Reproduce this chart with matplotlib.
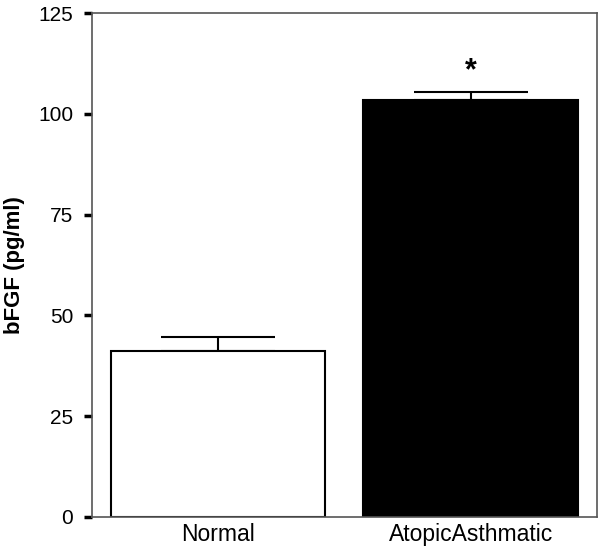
import numpy as np
import matplotlib
matplotlib.use("Agg")
import matplotlib.pyplot as plt

matplotlib.rcParams['font.family'] = ['Liberation Sans', 'DejaVu Sans']

groups = ["Normal", "AtopicAsthmatic"]
means = [41.2, 103.4]
sem = [3.5, 2.1]
colors = ["white", "black"]
yticks = [0, 25, 50, 75, 100, 125]

fig = plt.figure(figsize=(6, 5.47), dpi=100)
ax = fig.add_axes([0.153, 0.055, 0.842, 0.921])

x = np.arange(len(groups))
ax.bar(x, means, width=0.85, color=colors, edgecolor="black", linewidth=1.5, zorder=2)
ax.errorbar(x, means, yerr=[[0, 0], sem], fmt="none", ecolor="black",
            elinewidth=1.5, capsize=41, capthick=1.5, zorder=1)
ax.text(1, 110.5, "*", ha="center", va="center", fontsize=22, fontweight="bold")

ax.set_xlim(-0.5, 1.5)
ax.set_ylim(0, 125)
ax.set_xticks(x)
ax.set_xticklabels(groups, fontsize=16.5)
ax.set_yticks(yticks)
ax.set_yticklabels([str(t) for t in yticks], fontsize=15)
ax.tick_params(axis="x", length=0, pad=4.5)
ax.tick_params(axis="y", direction="out", length=6, width=2.5, color="black", pad=7.5)
ax.set_ylabel("bFGF (pg/ml)", fontsize=16, fontweight="bold")
ax.yaxis.set_label_coords(-0.132, 0.5)
for s in ax.spines.values():
    s.set_color("#555555")
    s.set_linewidth(1.2)

plt.savefig("out.png", dpi=100)
